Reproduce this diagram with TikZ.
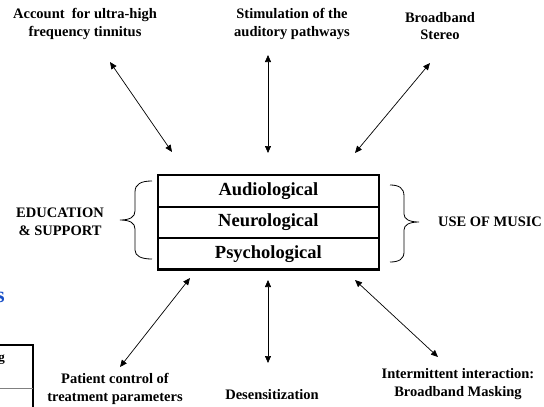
\documentclass[tikz,border=0pt]{standalone}
\usepackage{fontspec}
\setmainfont{Liberation Serif}
\usetikzlibrary{arrows.meta}
\definecolor{titleblue}{RGB}{25,80,200}
\tikzset{
  lbl/.style={font=\bfseries\fontsize{14.5}{17.5}\selectfont, align=center, inner sep=0pt},
  row/.style={draw, line width=0.8pt, minimum width=220pt, minimum height=30.7pt, inner sep=0pt,
              font=\bfseries\fontsize{18.5}{22}\selectfont, anchor=north west},
  dbl/.style={{Triangle[length=7pt,width=6pt]}-{Triangle[length=7pt,width=6pt]}, line width=0.7pt},
  brace/.style={line width=0.8pt}
}
\begin{document}
\begin{tikzpicture}[x=1pt,y=-1pt]
\useasboundingbox (0,0) rectangle (544,407);
\fill[white] (0,0) rectangle (544,407);

% central box
\node[row] (aud) at (158,175) {Audiological};
\node[row] (neu) at (aud.south west) {Neurological};
\node[row] (psy) at (neu.south west) {Psychological};
\draw[line width=2.4pt] (aud.north west) rectangle (psy.south east);

% top labels
\node[lbl] (acc) at (85,24) {Account\ \ for ultra-high\\frequency tinnitus};
\node[lbl] (sti) at (292,24) {Stimulation of the\\auditory pathways};
\node[lbl] (bro) at (440,26) {Broadband\\Stereo};

% side labels
\node[lbl] (edu) at (60,222) {EDUCATION\\\& SUPPORT};
\node[lbl] (mus) at (490,222) {USE OF MUSIC};

% bottom labels
\node[lbl] (pat) at (115,389) {Patient control of\\treatment parameters};
\node[lbl] (des) at (272,395) {Desensitization};
\node[lbl] (int) at (458,384) {Intermittent interaction:\\Broadband Masking};

% arrow end points
\coordinate (a1o) at (110,62);  \coordinate (a1i) at (172,152);
\coordinate (a2o) at (268,55);  \coordinate (a2i) at (268,153);
\coordinate (a3o) at (430,63);  \coordinate (a3i) at (355,153);
\coordinate (b1i) at (190,278); \coordinate (b1o) at (120,367);
\coordinate (b2i) at (268,280); \coordinate (b2o) at (268,363);
\coordinate (b3i) at (355,280); \coordinate (b3o) at (438,357);

\draw[dbl] (a1o) -- (a1i);
\draw[dbl] (a2o) -- (a2i);
\draw[dbl] (a3o) -- (a3i);
\draw[dbl] (b1i) -- (b1o);
\draw[dbl] (b2i) -- (b2o);
\draw[dbl] (b3i) -- (b3o);

% braces
\draw[brace] (152,181) .. controls (141,181) and (135,184) .. (135,192) -- (135,211)
  .. controls (135,217) and (130,220) .. (120,220)
  .. controls (130,220) and (135,223) .. (135,229) -- (135,250)
  .. controls (135,256) and (141,259) .. (152,259);
\draw[brace] (390,185) .. controls (399,185) and (404,188) .. (404,196) -- (404,214)
  .. controls (404,219) and (409,222) .. (419,222)
  .. controls (409,222) and (404,225) .. (404,230) -- (404,252)
  .. controls (404,259) and (399,262) .. (390,262);

% cut-off fragments at the left edge
\node[font=\bfseries\fontsize{22}{26}\selectfont, text=titleblue, anchor=base east, inner sep=0pt] (frs) at (5,302) {s};
\draw[line width=2pt] (0,345) -- (33,345) -- (33,408);
\draw[line width=0.6pt, gray] (0,388) -- (33,388);
\node[font=\bfseries\fontsize{13}{15}\selectfont, anchor=base east, inner sep=0pt] (frg) at (5,361) {g};
\end{tikzpicture}
\end{document}
